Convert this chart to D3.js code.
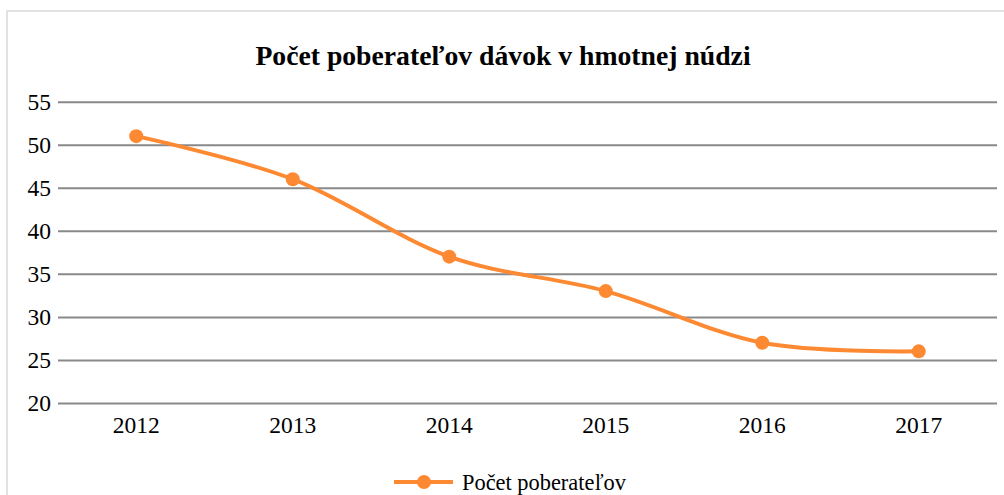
<!DOCTYPE html>
<html><head><meta charset="utf-8">
<script src="https://cdn.jsdelivr.net/npm/d3@7"></script>
<style>html,body{margin:0;padding:0;background:#fff;overflow:hidden}</style>
</head><body><svg id="c" width="1004" height="495"></svg>
<script>
const title = "Počet poberateľov dávok v hmotnej núdzi";
const seriesName = "Počet poberateľov";
const years = ["2012","2013","2014","2015","2016","2017"];
const values = [51, 46, 37, 33, 27, 26];
const yTicks = [20, 25, 30, 35, 40, 45, 50, 55];

(function () {
const svg = d3.select("#c");
const color = "#fd8a32";
const font = "'Liberation Serif', 'Times New Roman', serif";

svg.append("rect").attr("x", 7).attr("y", 11).attr("width", 1010).attr("height", 500)
  .attr("fill", "none").attr("stroke", "#d9d9d9").attr("stroke-width", 1.5);

const pLeft = 58, pRight = 997, pTop = 101.7, pBottom = 403;
const x = d3.scaleBand().domain(years).range([pLeft, pRight]);
const y = d3.scaleLinear().domain([20, 55]).range([pBottom, pTop]);

svg.append("text").attr("x", 503).attr("y", 65).attr("text-anchor", "middle")
  .attr("font-family", font).attr("font-weight", "bold").attr("font-size", 27.7)
  .text(title);

const ya = svg.append("g").attr("transform", `translate(${pLeft},0)`)
  .call(d3.axisLeft(y).tickValues(yTicks).tickSize(-(pRight - pLeft)).tickPadding(7));
ya.select(".domain").remove();
ya.selectAll(".tick line").attr("stroke", "#898989").attr("stroke-width", 2);
ya.selectAll(".tick text").attr("font-family", font).attr("font-size", 23.5).attr("fill", "#000");

const xa = svg.append("g").attr("transform", `translate(0,${pBottom})`)
  .call(d3.axisBottom(x).tickSize(0).tickPadding(13));
xa.select(".domain").remove();
xa.selectAll(".tick text").attr("font-family", font).attr("font-size", 23.5).attr("fill", "#000").attr("dy", "0.71em");

const cx = d => x(d) + x.bandwidth() / 2;
const line = d3.line().x((d, i) => cx(years[i])).y(d => y(d)).curve(d3.curveCardinal.tension(0));
svg.append("path").datum(values).attr("d", line).attr("fill", "none")
  .attr("stroke", color).attr("stroke-width", 4).attr("stroke-linecap", "round");
svg.selectAll(".pt").data(values).enter().append("circle")
  .attr("cx", (d, i) => cx(years[i])).attr("cy", d => y(d)).attr("r", 7).attr("fill", color);

const lg = svg.append("g");
lg.append("line").attr("x1", 394).attr("x2", 453).attr("y1", 482).attr("y2", 482)
  .attr("stroke", color).attr("stroke-width", 4);
lg.append("circle").attr("cx", 424).attr("cy", 482).attr("r", 7).attr("fill", color);
lg.append("text").attr("x", 462).attr("y", 490).attr("font-family", font).attr("font-size", 22.4)
  .attr("fill", "#000").text(seriesName);
})();
</script></body></html>
